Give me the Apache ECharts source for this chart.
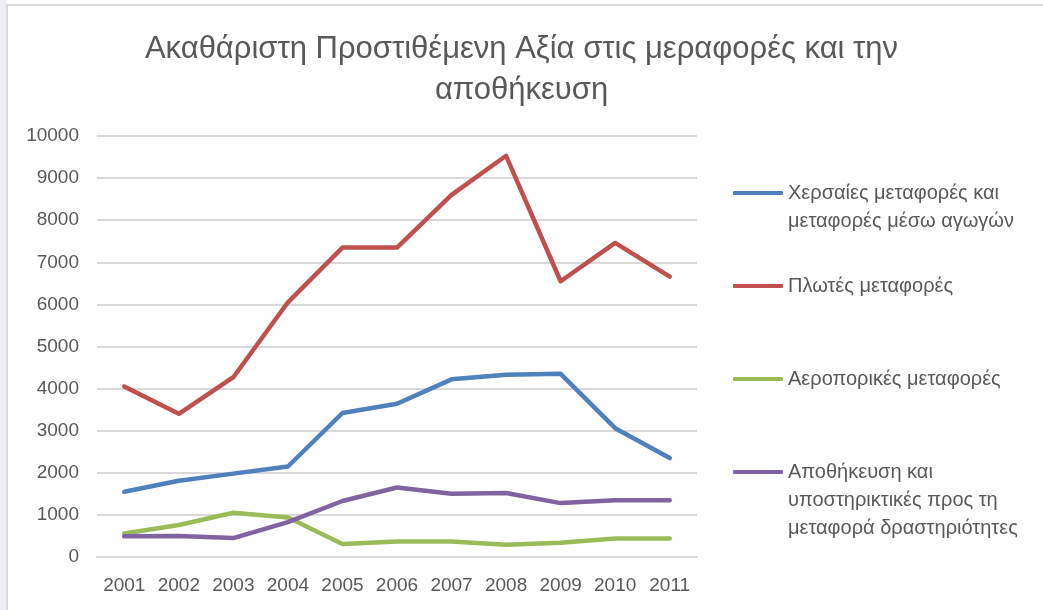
<!DOCTYPE html>
<html>
<head>
<meta charset="utf-8">
<script src="https://cdn.jsdelivr.net/npm/echarts@6/dist/echarts.min.js"></script>
<style>
html,body{margin:0;padding:0;background:#fff;}
#chart{width:1043px;height:610px;}
</style>
</head>
<body>
<div id="chart"></div>
<script>
var categories = ['2001','2002','2003','2004','2005','2006','2007','2008','2009','2010','2011'];
var seriesNames = [
  'Χερσαίες μεταφορές και μεταφορές μέσω αγωγών',
  'Πλωτές μεταφορές',
  'Αεροπορικές μεταφορές',
  'Αποθήκευση και υποστηρικτικές προς τη μεταφορά δραστηριότητες'
];
var legendLines = [
  ['Χερσαίες μεταφορές και', 'μεταφορές μέσω αγωγών'],
  ['Πλωτές μεταφορές'],
  ['Αεροπορικές μεταφορές'],
  ['Αποθήκευση και', 'υποστηρικτικές προς τη', 'μεταφορά δραστηριότητες']
];
var landValues    = [1550, 1810, 1980, 2150, 3420, 3640, 4220, 4330, 4350, 3060, 2350];
var waterValues   = [4050, 3400, 4270, 6050, 7350, 7350, 8600, 9530, 6550, 7460, 6660];
var airValues     = [560, 760, 1050, 940, 310, 370, 370, 290, 340, 440, 440];
var storageValues = [490, 500, 450, 830, 1330, 1650, 1500, 1520, 1280, 1350, 1350];
var yTicks = {min: 0, max: 10000, interval: 1000};

var colors = ['#4f81bd', '#c0504d', '#9bbb59', '#8064a2'];
var values = [landValues, waterValues, airValues, storageValues];
var legendCenters = [195, 288, 381, 474];
var FONT = 'Liberation Sans';
var TXT = '#595959';
var LH = 28;

var legends = seriesNames.map(function (name, i) {
  var lines = legendLines[i];
  var blanks = lines.length - 1;
  var text = '';
  for (var b = 0; b < blanks; b++) text += '\n';
  text += lines.join('\n');
  var total = blanks + lines.length;
  return {
    data: [name],
    left: 733,
    top: legendCenters[i] - 2 - total * LH / 2,
    padding: 0,
    icon: 'roundRect',
    itemWidth: 50,
    itemHeight: 4,
    itemGap: 0,
    selectedMode: false,
    formatter: function () { return text; },
    textStyle: {color: TXT, fontSize: 20, fontFamily: FONT, lineHeight: LH}
  };
});

var chart = echarts.init(document.getElementById('chart'), null, {renderer: 'canvas'});
chart.setOption({
  backgroundColor: '#ffffff',
  animation: false,
  title: {
    text: 'Ακαθάριστη Προστιθέμενη Αξία στις μεραφορές και την\nαποθήκευση',
    left: 'center',
    top: 29,
    padding: [0, 0, 0, 11],
    textStyle: {color: TXT, fontSize: 31, fontWeight: 'normal', fontFamily: FONT, lineHeight: 41}
  },
  graphic: [
    {type: 'rect', shape: {x: 0, y: 0, width: 7, height: 610}, style: {fill: '#eceef1'}, silent: true},
    {type: 'line', shape: {x1: 7, y1: 5, x2: 7, y2: 610}, style: {stroke: '#d9d9d9', lineWidth: 2}, silent: true},
    {type: 'line', shape: {x1: 7, y1: 5, x2: 1043, y2: 5}, style: {stroke: '#d9d9d9', lineWidth: 2}, silent: true}
  ],
  legend: legends,
  grid: {left: 97, right: 346, top: 136, bottom: 53, containLabel: false},
  xAxis: {
    type: 'category',
    data: categories,
    boundaryGap: true,
    axisLine: {show: true, lineStyle: {color: '#d9d9d9', width: 2}},
    axisTick: {show: false},
    axisLabel: {color: TXT, fontSize: 19, fontFamily: FONT, margin: 19, interval: 0}
  },
  yAxis: {
    type: 'value',
    min: yTicks.min,
    max: yTicks.max,
    interval: yTicks.interval,
    axisLine: {show: false},
    axisTick: {show: false},
    axisLabel: {color: TXT, fontSize: 19, fontFamily: FONT, margin: 18,
      formatter: function (v) { return String(v); }},
    splitLine: {lineStyle: {color: '#d9d9d9', width: 2}}
  },
  series: seriesNames.map(function (name, i) {
    return {
      name: name,
      type: 'line',
      data: values[i],
      symbol: 'none',
      color: colors[i],
      itemStyle: {color: colors[i]},
      lineStyle: {color: colors[i], width: 4.5, cap: 'round', join: 'round'}
    };
  })
});
</script>
</body>
</html>
